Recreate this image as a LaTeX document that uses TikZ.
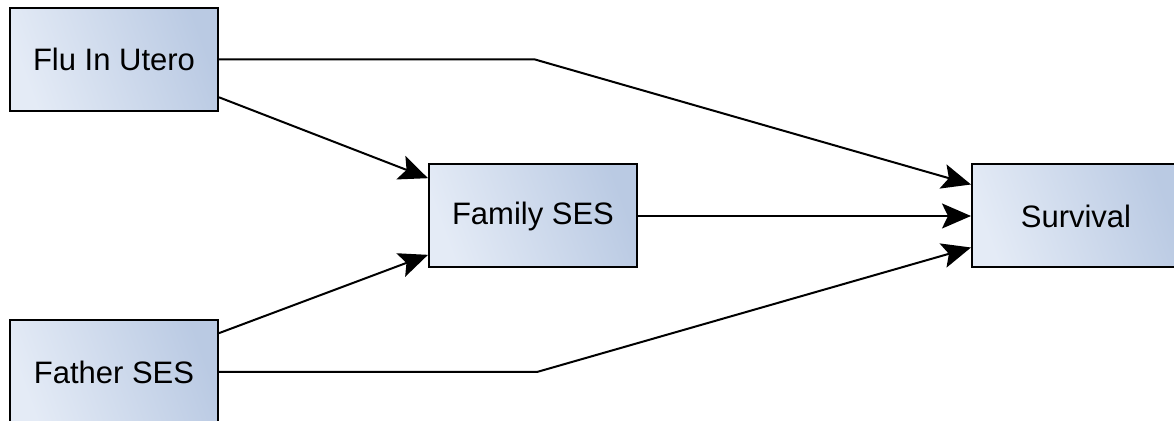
\documentclass[tikz,border=0pt]{standalone}
\usepackage{fontspec}
\setmainfont{Liberation Sans}
\usetikzlibrary{arrows.meta,calc}
\definecolor{boxL}{RGB}{228,235,246}
\definecolor{boxR}{RGB}{186,202,227}
\begin{document}
\begin{tikzpicture}[x=0.5pt,y=-0.5pt,
  box/.style={draw=black, line width=1pt,
    left color=boxL, right color=boxR, shading angle=110,
    minimum width=104pt, minimum height=51.5pt, inner sep=0pt,
    font=\fontsize{15.5}{18}\selectfont},
  conn/.style={line width=1pt, -{Stealth[length=14.5pt,width=12.5pt,inset=3pt]}}]
\useasboundingbox (0,0) rectangle (1174,421);
\node[box] (flu) at (114,59.5) {Flu In Utero};
\node[box] (father) at (114,372) {Father SES};
\node[box] (family) at (533,216) {Family SES};
\node[box] (surv) at (1076,216) {Survival};
\coordinate (k1) at (535,59.5);
\coordinate (k2) at (537,372);
\draw[conn] (flu.east) -- (k1) -- ($(surv.north west)!0.2!(surv.south west)$);
\draw[conn] (father.east) -- (k2) -- ($(surv.north west)!0.8!(surv.south west)$);
\draw[conn] (family.east) -- (surv.west);
\draw[conn] ($(flu.north east)!0.86!(flu.south east)$) -- ($(family.north west)!0.14!(family.south west)$);
\draw[conn] ($(father.north east)!0.13!(father.south east)$) -- ($(family.north west)!0.87!(family.south west)$);
\end{tikzpicture}
\end{document}
